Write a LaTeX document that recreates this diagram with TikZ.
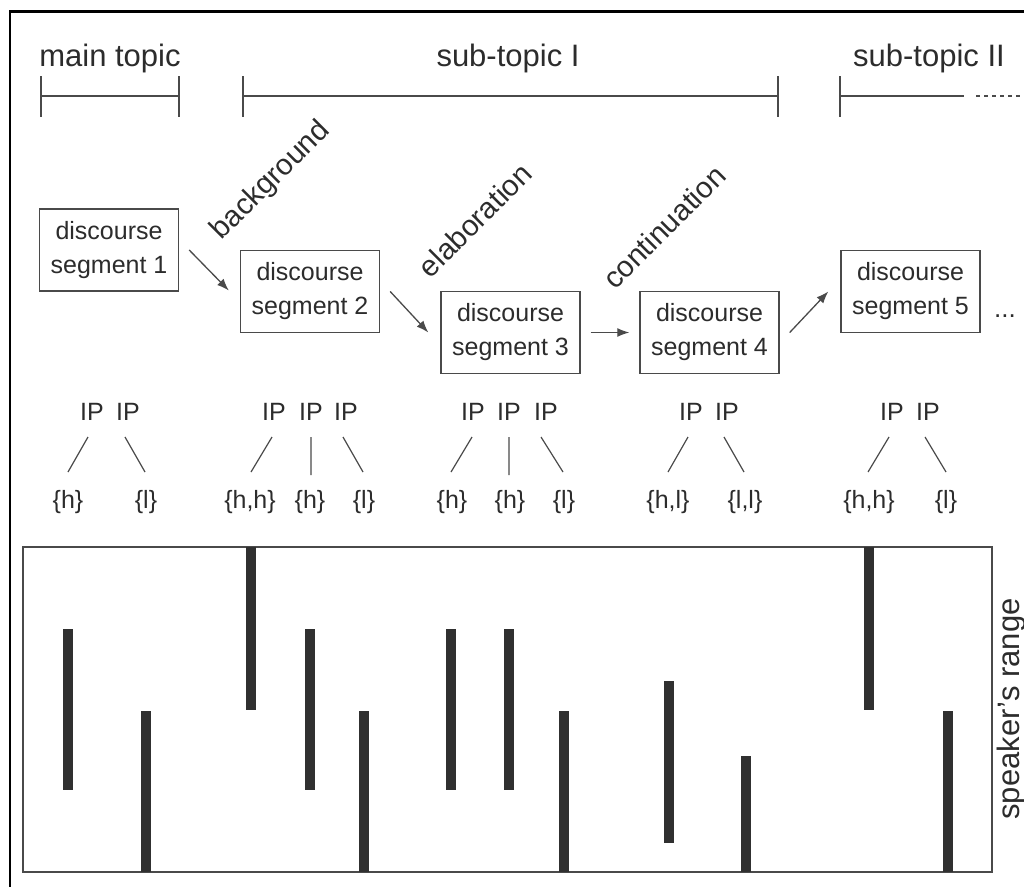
\documentclass[tikz,border=0pt]{standalone}
\usepackage{fontspec}
\setmainfont{Liberation Sans}
\usetikzlibrary{arrows.meta}
\definecolor{ink}{HTML}{2C2C2C}
\definecolor{linec}{HTML}{4A4A4A}
\definecolor{barc}{HTML}{303030}
\begin{document}
\begin{tikzpicture}[x=1pt,y=-1pt,
  toplabel/.style={text=ink,font=\fontsize{31}{34}\selectfont,inner sep=0pt},
  segbox/.style={draw=linec,line width=1.4pt,minimum width=139pt,minimum height=82pt,
    align=center,text=ink,font=\fontsize{25}{34}\selectfont,inner sep=0pt},
  rel/.style={text=ink,font=\fontsize{29.5}{32}\selectfont,inner sep=0pt,rotate=45},
  iplab/.style={text=ink,font=\fontsize{25}{27}\selectfont,inner sep=0pt},
  branch/.style={draw=linec,line width=1.2pt},
  bracket/.style={draw=linec,line width=1.4pt},
  arr/.style={draw=linec,line width=1.3pt,-{Latex[length=12pt,width=9pt]}},
]
\useasboundingbox (0,0) rectangle (1024,886);
% outer frame
\draw[black,line width=2.5pt] (1040,11.5) -- (10,11.5) -- (10,900);

% topic labels and brackets
\node[toplabel] (tmain) at (110,58) {main topic};
\node[toplabel] (tsub1) at (508,58) {sub-topic I};
\node[toplabel] (tsub2) at (929,58) {sub-topic II};
\draw[bracket] (41,76) -- (41,117) (41,96) -- (179,96) (179,76) -- (179,117);
\draw[bracket] (243,76) -- (243,117) (243,96) -- (778,96) (778,76) -- (778,117);
\draw[bracket] (840,76) -- (840,117) (840,96) -- (964,96);
\draw[bracket,dash pattern=on 4pt off 4pt] (976,96) -- (1024,96);

% discourse segments
\node[segbox] (b1) at (109,250) {discourse\\segment 1};
\node[segbox] (b2) at (310,291.5) {discourse\\segment 2};
\node[segbox] (b3) at (510.5,332.5) {discourse\\segment 3};
\node[segbox] (b4) at (709.5,332.5) {discourse\\segment 4};
\node[segbox] (b5) at (910.5,291.5) {discourse\\segment 5};
\node[iplab,anchor=base west,font=\fontsize{26}{34}\selectfont] (dots) at (994,317) {...};

\draw[arr] ([xshift=10pt]b1.east) -- ([xshift=-11pt,yshift=1pt]b2.west);
\draw[arr] ([xshift=10pt]b2.east) -- ([xshift=-12pt]b3.west);
\draw[arr] ([xshift=10pt]b3.east) -- ([xshift=-10pt]b4.west);
\draw[arr] ([xshift=10pt]b4.east) -- ([xshift=-12pt]b5.west);

% relation labels
\node[rel] (rbg) at (271,181) {background};
\node[rel] (rel) at (475,220) {elaboration};
\node[rel] (rco) at (664,227) {continuation};

% IP trees
\foreach \n/\x in {a1/92,a2/128,b1/274,b2/311,b3/346,c1/473,c2/509,c3/546,d1/691,d2/727,e1/892,e2/928}
  \node[iplab] (ip\n) at (\x,412) {IP};
\node[iplab] (la1) at (68,502) {\{h\}};
\node[iplab] (la2) at (146,502) {\{l\}};
\node[iplab] (lb1) at (250,502) {\{h,h\}};
\node[iplab] (lb2) at (310,502) {\{h\}};
\node[iplab] (lb3) at (364,502) {\{l\}};
\node[iplab] (lc1) at (452,502) {\{h\}};
\node[iplab] (lc2) at (510,502) {\{h\}};
\node[iplab] (lc3) at (564,502) {\{l\}};
\node[iplab] (ld1) at (668,502) {\{h,l\}};
\node[iplab] (ld2) at (745,502) {\{l,l\}};
\node[iplab] (le1) at (869,502) {\{h,h\}};
\node[iplab] (le2) at (946,502) {\{l\}};

\draw[branch] (88,437) -- (68,472) (125,437) -- (145,472);
\draw[branch] (272,437) -- (251,472) (311,437) -- (311,475) (343,437) -- (363,472);
\draw[branch] (472,437) -- (451,472) (509,437) -- (509,475) (541,437) -- (563,472);
\draw[branch] (688,437) -- (668,472) (724,437) -- (744,472);
\draw[branch] (889,437) -- (868,472) (925,437) -- (946,472);

% speaker's range
\draw[draw=linec,line width=1.5pt] (23,547) rectangle (992,872);
\node[toplabel,rotate=90] (spk) at (1011,709) {speaker's range};

% pitch bars
\foreach \x/\a/\b in {68/629/790, 146/711/872, 251/547/710, 310/629/790, 364/711/872,
  451/629/790, 509/629/790, 564/711/872, 669/681/843, 746/756/872, 869/547/710, 948/711/872}
  \fill[barc] (\x-5,\a) rectangle (\x+5,\b);
\end{tikzpicture}
\end{document}
